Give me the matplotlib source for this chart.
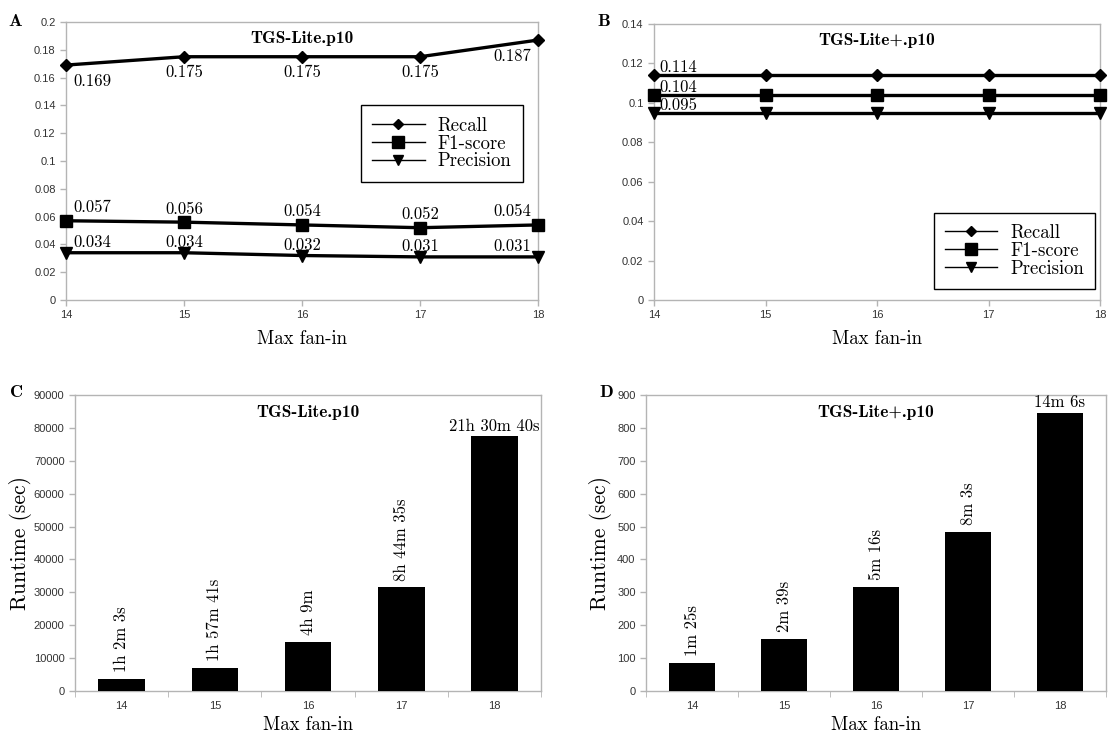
import numpy as np
import matplotlib
matplotlib.use("Agg")
from matplotlib import pyplot as plt
from matplotlib.lines import Line2D

fan_in = [14, 15, 16, 17, 18]

# panel A - TGS-Lite.p10
recall_a = [0.169, 0.175, 0.175, 0.175, 0.187]
f1_a = [0.057, 0.056, 0.054, 0.052, 0.054]
prec_a = [0.034, 0.034, 0.032, 0.031, 0.031]

# panel B - TGS-Lite+.p10
recall_b = [0.114, 0.114, 0.114, 0.114, 0.114]
f1_b = [0.104, 0.104, 0.104, 0.104, 0.104]
prec_b = [0.095, 0.095, 0.095, 0.095, 0.095]

# runtimes (sec)
runtime_c = [3723, 7061, 14940, 31475, 77440]
labels_c = ["1h 2m 3s", "1h 57m 41s", "4h 9m", "8h 44m 35s", "21h 30m 40s"]
runtime_d = [85, 159, 316, 483, 846]
labels_d = ["1m 25s", "2m 39s", "5m 16s", "8m 3s", "14m 6s"]

SERIF = "cmr10"
BOLD = "cmb10"
GRID = "#b4b4b4"
TICKC = "#333333"
VALFS = 12

fig = plt.figure(figsize=(11.1, 7.4), dpi=100)


def style_axes(ax):
    for s in ax.spines.values():
        s.set_color(GRID)
        s.set_linewidth(1)
    ax.tick_params(axis="both", labelsize=8, colors=GRID, labelcolor=TICKC,
                   length=4, width=1)
    for t in ax.get_xticklabels() + ax.get_yticklabels():
        t.set_family("Liberation Sans")


def line_panel(rect, rec, f1, pr, ymax, step, title, letter, letter_pos, legend_pos, lab_all):
    ax = fig.add_axes(rect)
    ax.plot(fan_in, rec, color="black", lw=2.4, marker="D", ms=6, clip_on=False, zorder=3)
    ax.plot(fan_in, f1, color="black", lw=2.4, marker="s", ms=8, clip_on=False, zorder=3)
    ax.plot(fan_in, pr, color="black", lw=2.4, marker="v", ms=8, clip_on=False, zorder=3)
    ax.set_xlim(14, 18)
    ax.set_ylim(0, ymax)
    ax.set_xticks(fan_in)
    yt = np.arange(0, ymax + step / 2, step)
    ax.set_yticks(yt)
    ax.set_yticklabels([("%g" % v) for v in yt])
    style_axes(ax)
    ax.set_xlabel("Max fan-in", family=SERIF, fontsize=13.5, labelpad=7)
    ax.text(0.5, 0.94, title, transform=ax.transAxes, ha="center", va="center",
            family=BOLD, fontsize=12.5)
    fig.text(letter_pos[0], letter_pos[1], letter, family=BOLD,
             fontsize=13, ha="center", va="center")
    if lab_all:
        for i, x in enumerate(fan_in):
            ha = "left" if i == 0 else ("right" if i == 4 else "center")
            dx = 5 if i == 0 else (-5 if i == 4 else 0)
            ax.annotate("%.3f" % rec[i], (x, rec[i]), xytext=(dx, -6),
                        textcoords="offset points", ha=ha, va="top",
                        family=SERIF, fontsize=VALFS)
            ax.annotate("%.3f" % f1[i], (x, f1[i]), xytext=(dx, 4),
                        textcoords="offset points", ha=ha, va="bottom",
                        family=SERIF, fontsize=VALFS)
            ax.annotate("%.3f" % pr[i], (x, pr[i]), xytext=(dx, 2),
                        textcoords="offset points", ha=ha, va="bottom",
                        family=SERIF, fontsize=VALFS)
    else:
        for vals in (rec, f1, pr):
            ax.annotate("%.3f" % vals[0], (fan_in[0], vals[0]), xytext=(4, 0),
                        textcoords="offset points", ha="left", va="bottom",
                        family=SERIF, fontsize=VALFS)
    handles = [Line2D([], [], color="black", lw=1, marker="D", ms=5),
               Line2D([], [], color="black", lw=1, marker="s", ms=8),
               Line2D([], [], color="black", lw=1, marker="v", ms=7)]
    leg = fig.legend(handles, ["Recall", "F1-score", "Precision"],
                     loc="center", bbox_to_anchor=legend_pos,
                     prop={"family": SERIF, "size": 13.5}, fancybox=False,
                     edgecolor="black", framealpha=1, handlelength=2.8,
                     labelspacing=0.0, borderpad=0.6, handletextpad=0.7,
                     borderaxespad=0)
    leg.get_frame().set_linewidth(1)
    return ax


def bar_panel(rect, vals, labs, ymax, step, title, letter, letter_pos, ypad):
    ax = fig.add_axes(rect)
    xs = np.arange(len(fan_in))
    ax.bar(xs, vals, width=0.5, color="black", zorder=3)
    ax.set_xlim(-0.5, len(fan_in) - 0.5)
    ax.set_ylim(0, ymax)
    ax.set_xticks(xs)
    ax.set_xticklabels([str(v) for v in fan_in])
    ax.set_xticks(np.arange(-0.5, len(fan_in), 1.0), minor=True)
    ax.set_yticks(np.arange(0, ymax + step / 2, step))
    style_axes(ax)
    ax.tick_params(axis="x", which="major", length=0, pad=7)
    ax.tick_params(axis="x", which="minor", length=4, color=GRID)
    ax.set_xlabel("Max fan-in", family=SERIF, fontsize=13.5, labelpad=4)
    ax.set_ylabel("Runtime (sec)", family=SERIF, fontsize=15.5, labelpad=ypad)
    ax.text(0.5, 0.94, title, transform=ax.transAxes, ha="center", va="center",
            family=BOLD, fontsize=12.5)
    fig.text(letter_pos[0], letter_pos[1], letter, family=BOLD,
             fontsize=13, ha="center", va="center")
    for i, (v, l) in enumerate(zip(vals, labs)):
        rot = 0 if i == len(vals) - 1 else 90
        ax.annotate(l, (xs[i], v), xytext=(0, 5 if rot else 2),
                    textcoords="offset points", ha="center", va="bottom",
                    rotation=rot, family=SERIF, fontsize=VALFS)
    return ax


line_panel([0.0595, 0.5946, 0.4252, 0.3757], recall_a, f1_a, prec_a, 0.2, 0.02,
           "TGS-Lite.p10", "A", (0.0135, 0.971), (0.398, 0.806), True)
line_panel([0.5892, 0.5946, 0.4018, 0.3730], recall_b, f1_b, prec_b, 0.14, 0.02,
           "TGS-Lite+.p10", "B", (0.544, 0.971), (0.914, 0.661), False)
bar_panel([0.0676, 0.0662, 0.4198, 0.4], runtime_c, labels_c, 90000, 10000,
          "TGS-Lite.p10", "C", (0.0153, 0.469), 1)
bar_panel([0.5820, 0.0662, 0.4144, 0.4], runtime_d, labels_d, 900, 100,
          "TGS-Lite+.p10", "D", (0.546, 0.469), 4)

fig.savefig("out.png", dpi=100, facecolor="white")
